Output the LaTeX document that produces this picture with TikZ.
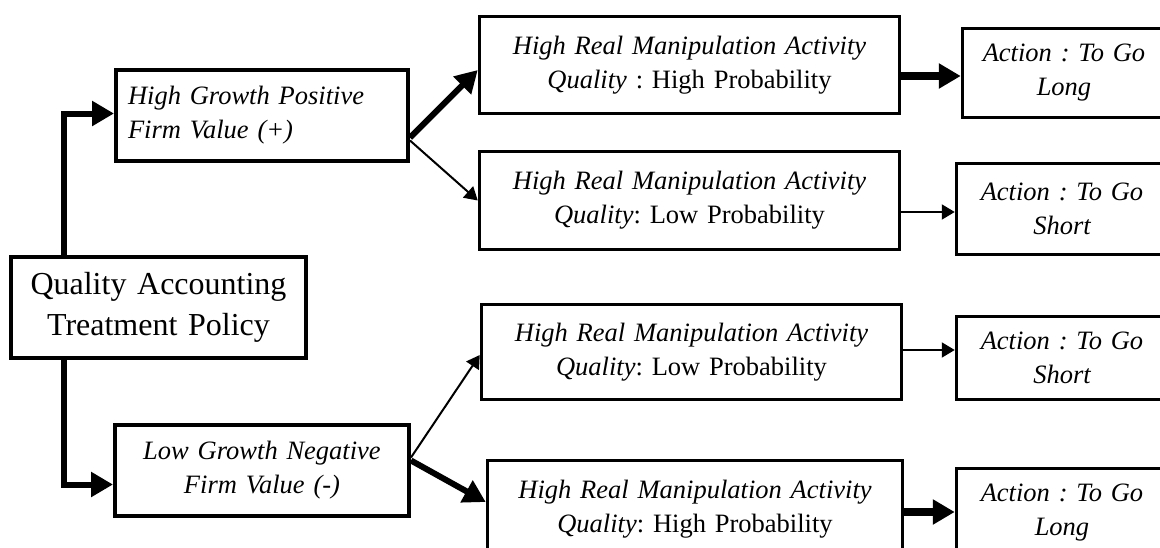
\documentclass[tikz,border=0pt]{standalone}
\usepackage{fontspec}
\setmainfont{Liberation Serif}
\usetikzlibrary{arrows.meta}
\frenchspacing
\begin{document}
\begin{tikzpicture}[x=1pt,y=-1pt,
  box/.style={draw, line width=3.5pt, inner sep=0pt, align=center,
    font=\fontsize{26.5}{34}\selectfont\frenchspacing},
  thickarr/.style={line width=6pt, line join=miter, -{Triangle[length=22pt,width=24pt]}},
  thinarr/.style={line width=2pt, -{Triangle[length=13pt,width=15pt]}}]
\useasboundingbox (0,0) rectangle (1160,547);
\fill[white] (0,0) rectangle (1160,547);
\clip (0,0) rectangle (1160,547);
% left column
\node[box, line width=4pt, font=\fontsize{32}{41}\selectfont,
  minimum width=295pt, minimum height=101pt, text width=280pt] (root) at (158.5,307.5)
  {Quality Accounting\\Treatment Policy};
\node[box, line width=4pt, align=left, minimum width=292pt, minimum height=91pt,
  text width=268pt] (hg) at (262,115.5)
  {\itshape High Growth Positive\\\itshape Firm Value (+)};
\node[box, line width=4pt, minimum width=294pt, minimum height=91pt,
  text width=270pt] (lg) at (262,470.5)
  {\itshape Low Growth Negative\\\itshape Firm Value (-)};
% middle column
\node[box, minimum width=420pt, minimum height=97pt, text width=400pt] (ma) at (689.5,65)
  {\textit{High Real Manipulation Activity}\\\textit{Quality} : High Probability};
\node[box, minimum width=420pt, minimum height=98pt, text width=400pt] (mb) at (689.5,200.5)
  {\textit{High Real Manipulation Activity}\\\textit{Quality}: Low Probability};
\node[box, minimum width=420pt, minimum height=95pt, text width=400pt] (mc) at (691.5,352)
  {\textit{High Real Manipulation Activity}\\\textit{Quality}: Low Probability};
\node[box, minimum width=415pt, minimum height=97pt, text width=400pt] (md) at (695,509)
  {\textit{High Real Manipulation Activity}\\\textit{Quality}: High Probability};
% right column
\node[box, minimum width=203pt, minimum height=89pt, text width=190pt] (aa) at (1064,73)
  {\itshape Action : To Go\\\itshape Long};
\node[box, minimum width=211pt, minimum height=91pt, text width=190pt] (ab) at (1062,209)
  {\itshape Action : To Go\\\itshape Short};
\node[box, minimum width=211pt, minimum height=83pt, text width=190pt] (ac) at (1062,358)
  {\itshape Action : To Go\\\itshape Short};
\node[box, minimum width=211pt, minimum height=89pt, text width=190pt] (ad) at (1062,513)
  {\itshape Action : To Go\\\itshape Long};
% connectors
\draw[thickarr] ([xshift=55pt]root.north west) |- ([yshift=2pt]hg.west);
\draw[thickarr] ([xshift=55pt]root.south west) |- ([yshift=-14pt]lg.west);
\draw[thickarr] ([yshift=-22pt]hg.east) -- ([yshift=-5pt]ma.west);
\draw[thinarr] ([yshift=-25pt]hg.east) -- (mb.west);
\draw[thinarr] ([yshift=13pt]lg.east) -- ([yshift=-3pt]mc.west);
\draw[thickarr] ([yshift=10pt]lg.east) -- ([yshift=7pt]md.west);
\draw[thickarr, line width=8pt] ([yshift=-11pt]ma.east) -- ([yshift=-11pt]ma.east -| aa.west);
\draw[thinarr] ([yshift=-11.5pt]mb.east) -- ([yshift=-11.5pt]mb.east -| ab.west);
\draw[thinarr] ([yshift=2pt]mc.east) -- ([yshift=2pt]mc.east -| ac.west);
\draw[thickarr, line width=8pt] ([yshift=-3pt]md.east) -- ([yshift=-3pt]md.east -| ad.west);
\end{tikzpicture}
\end{document}
